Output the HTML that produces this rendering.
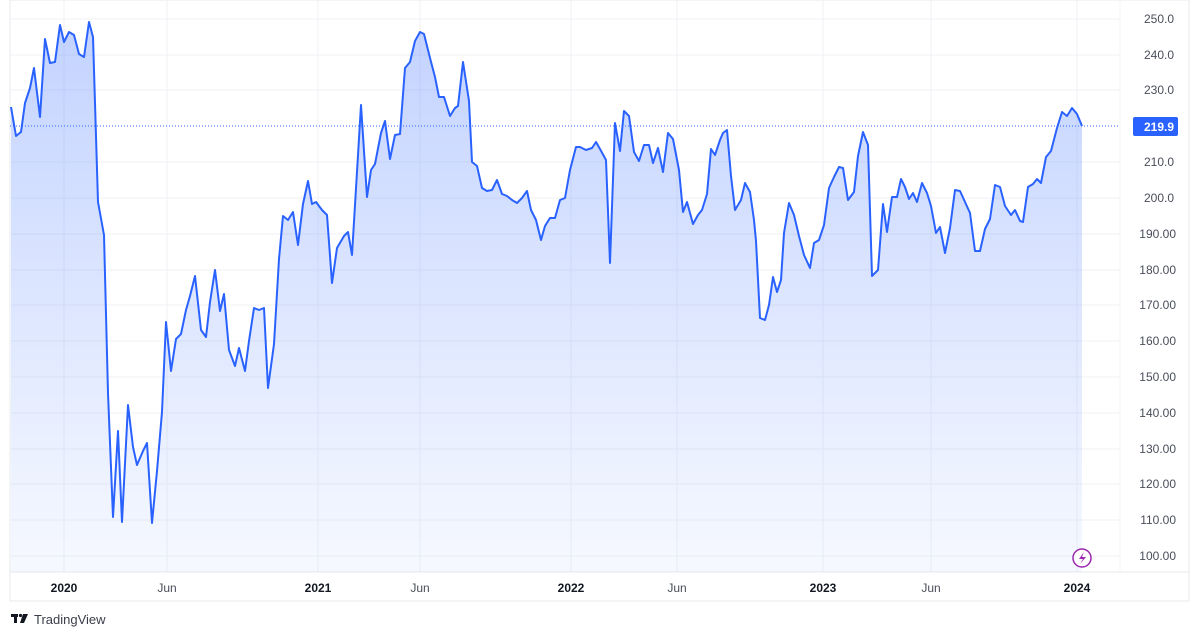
<!DOCTYPE html>
<html><head><meta charset="utf-8"><style>
body{margin:0;background:#fff;}
svg{display:block;font-family:"Liberation Sans",sans-serif;}
</style></head><body>
<svg width="1200" height="638" viewBox="0 0 1200 638">
<defs>
<linearGradient id="g" x1="0" y1="0" x2="0" y2="1">
<stop offset="0" stop-color="#2962ff" stop-opacity="0.28"/>
<stop offset="1" stop-color="#2962ff" stop-opacity="0.04"/>
</linearGradient>
</defs>
<rect x="10" y="0" width="1179" height="601" fill="none" stroke="#e6e8ee"/>
<g stroke="#f0f2f5" stroke-width="1">
<line x1="10" x2="1120" y1="19" y2="19"/><line x1="10" x2="1120" y1="55" y2="55"/><line x1="10" x2="1120" y1="90" y2="90"/><line x1="10" x2="1120" y1="162" y2="162"/><line x1="10" x2="1120" y1="198" y2="198"/><line x1="10" x2="1120" y1="234" y2="234"/><line x1="10" x2="1120" y1="270" y2="270"/><line x1="10" x2="1120" y1="305" y2="305"/><line x1="10" x2="1120" y1="341" y2="341"/><line x1="10" x2="1120" y1="377" y2="377"/><line x1="10" x2="1120" y1="413" y2="413"/><line x1="10" x2="1120" y1="449" y2="449"/><line x1="10" x2="1120" y1="484" y2="484"/><line x1="10" x2="1120" y1="520" y2="520"/><line x1="10" x2="1120" y1="556" y2="556"/>
<line x1="64" x2="64" y1="0" y2="572"/><line x1="167" x2="167" y1="0" y2="572"/><line x1="318" x2="318" y1="0" y2="572"/><line x1="420" x2="420" y1="0" y2="572"/><line x1="571" x2="571" y1="0" y2="572"/><line x1="677" x2="677" y1="0" y2="572"/><line x1="823" x2="823" y1="0" y2="572"/><line x1="931" x2="931" y1="0" y2="572"/><line x1="1077" x2="1077" y1="0" y2="572"/>
</g>
<line x1="10" x2="1189" y1="572" y2="572" stroke="#e6e8ee"/>
<line x1="1120" x2="1120" y1="0" y2="572" stroke="#f3f4f7"/>
<polygon fill="url(#g)" points="11,572 11,107 16,136 21,132 25,103 30,88 34,68 40,117 45,39 50,63 55,62 60,25 64,42 69,32 74,35 79,54 84,57 89,22 93,37 98,202 104,235 108,393 113,517 118,431 122,522 128,405 133,447 137,465 143,451 147,443 152,523 157,471 162,412 166,322 171,371 176,339 181,334 186,310 190,296 195,276 201,330 206,337 210,302 215,270 220,311 224,294 229,350 235,366 239,348 245,371 249,341 254,308 259,310 264,308 268,388 274,344 279,259 283,216 288,220 293,212 298,245 303,204 308,181 312,204 316,202 322,210 327,215 332,283 337,248 344,236 348,232 352,255 361,105 367,197 371,170 375,164 381,133 385,121 390,159 395,135 400,134 405,68 410,62 415,41 420,32 424,34 430,58 435,77 439,97 444,97 450,116 455,108 458,106 463,62 469,101 472,162 477,166 482,188 487,191 492,190 497,180 502,194 507,196 512,200 517,203 522,198 527,191 531,210 536,220 541,240 545,226 550,218 555,218 560,200 565,198 570,170 576,147 580,147 586,150 592,148 596,142 600,149 606,160 610,263 615,123 620,151 624,111 629,116 634,152 639,161 644,145 649,145 653,163 658,148 663,172 668,133 673,139 679,170 683,212 687,202 693,224 698,215 702,210 707,194 711,149 715,155 720,140 723,133 727,130 731,176 735,210 741,200 745,183 750,192 754,220 756,241 760,318 765,320 769,305 773,277 777,292 781,280 784,233 789,203 794,215 799,236 804,255 810,268 814,243 819,240 824,225 829,188 834,177 839,167 843,168 848,200 854,192 858,156 863,132 868,145 872,276 878,270 883,204 887,232 892,197 897,197 901,179 905,187 909,199 913,193 917,202 922,183 927,193 931,206 936,233 940,227 945,253 950,228 955,190 960,191 965,202 970,213 975,251 980,251 985,229 990,219 995,185 1000,187 1005,206 1011,215 1015,210 1020,221 1023,222 1028,187 1033,184 1037,179 1041,183 1046,157 1051,151 1057,128 1062,112 1067,116 1072,108 1077,114 1082,126 1082,572"/>
<line x1="10" x2="1120" y1="126" y2="126" stroke="#2962ff" stroke-width="1" stroke-dasharray="1,2"/>
<polyline fill="none" stroke="#2962ff" stroke-width="2" stroke-linejoin="round" points="11,107 16,136 21,132 25,103 30,88 34,68 40,117 45,39 50,63 55,62 60,25 64,42 69,32 74,35 79,54 84,57 89,22 93,37 98,202 104,235 108,393 113,517 118,431 122,522 128,405 133,447 137,465 143,451 147,443 152,523 157,471 162,412 166,322 171,371 176,339 181,334 186,310 190,296 195,276 201,330 206,337 210,302 215,270 220,311 224,294 229,350 235,366 239,348 245,371 249,341 254,308 259,310 264,308 268,388 274,344 279,259 283,216 288,220 293,212 298,245 303,204 308,181 312,204 316,202 322,210 327,215 332,283 337,248 344,236 348,232 352,255 361,105 367,197 371,170 375,164 381,133 385,121 390,159 395,135 400,134 405,68 410,62 415,41 420,32 424,34 430,58 435,77 439,97 444,97 450,116 455,108 458,106 463,62 469,101 472,162 477,166 482,188 487,191 492,190 497,180 502,194 507,196 512,200 517,203 522,198 527,191 531,210 536,220 541,240 545,226 550,218 555,218 560,200 565,198 570,170 576,147 580,147 586,150 592,148 596,142 600,149 606,160 610,263 615,123 620,151 624,111 629,116 634,152 639,161 644,145 649,145 653,163 658,148 663,172 668,133 673,139 679,170 683,212 687,202 693,224 698,215 702,210 707,194 711,149 715,155 720,140 723,133 727,130 731,176 735,210 741,200 745,183 750,192 754,220 756,241 760,318 765,320 769,305 773,277 777,292 781,280 784,233 789,203 794,215 799,236 804,255 810,268 814,243 819,240 824,225 829,188 834,177 839,167 843,168 848,200 854,192 858,156 863,132 868,145 872,276 878,270 883,204 887,232 892,197 897,197 901,179 905,187 909,199 913,193 917,202 922,183 927,193 931,206 936,233 940,227 945,253 950,228 955,190 960,191 965,202 970,213 975,251 980,251 985,229 990,219 995,185 1000,187 1005,206 1011,215 1015,210 1020,221 1023,222 1028,187 1033,184 1037,179 1041,183 1046,157 1051,151 1057,128 1062,112 1067,116 1072,108 1077,114 1082,126"/>
<g font-size="12" fill="#4a4e5a" text-anchor="end">
<text x="1174" y="23">250.0</text><text x="1174" y="59">240.0</text><text x="1174" y="94">230.0</text><text x="1174" y="166">210.0</text><text x="1174" y="202">200.0</text><text x="1176" y="238">190.00</text><text x="1176" y="274">180.00</text><text x="1176" y="309">170.00</text><text x="1176" y="345">160.00</text><text x="1176" y="381">150.00</text><text x="1176" y="417">140.00</text><text x="1176" y="453">130.00</text><text x="1176" y="488">120.00</text><text x="1176" y="524">110.00</text><text x="1176" y="560">100.00</text>
</g>
<rect x="1133" y="117" width="45" height="19" rx="2" fill="#2962ff"/>
<text x="1174" y="131" font-size="12" fill="#fff" text-anchor="end" font-weight="bold">219.9</text>
<circle cx="1082" cy="558" r="9" fill="#fff" stroke="#9c27b0" stroke-width="1.5"/>
<path d="M1084,552 L1079,559 L1083,559 L1080,564 L1086,557 L1082,557 Z" fill="#9c27b0"/>
<g font-size="12" fill="#131722" text-anchor="middle">
<text x="64" y="592" font-weight="bold">2020</text><text x="167" y="592" fill="#4a4e5a">Jun</text><text x="318" y="592" font-weight="bold">2021</text><text x="420" y="592" fill="#4a4e5a">Jun</text><text x="571" y="592" font-weight="bold">2022</text><text x="677" y="592" fill="#4a4e5a">Jun</text><text x="823" y="592" font-weight="bold">2023</text><text x="931" y="592" fill="#4a4e5a">Jun</text><text x="1077" y="592" font-weight="bold">2024</text>
</g>
<g fill="#131722">
<rect x="11" y="614" width="7" height="3"/><rect x="14" y="614" width="3" height="9"/><circle cx="20.5" cy="615.5" r="1.6"/><path d="M23,614 L28,614 L24,623 L20,623 Z"/>
</g>
<text x="34" y="624" font-size="13" fill="#3a3e4a">TradingView</text>
</svg>
</body></html>
